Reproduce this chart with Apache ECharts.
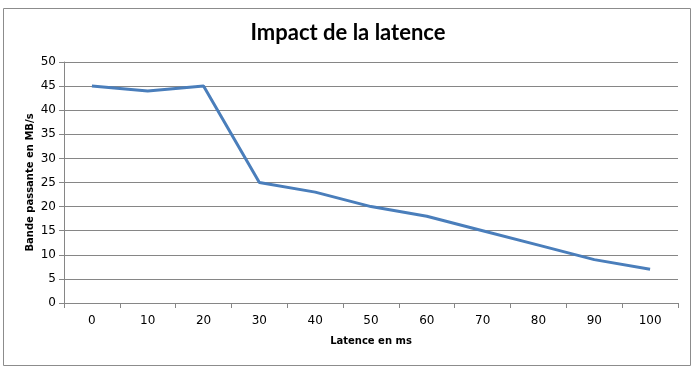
<!DOCTYPE html>
<html><head><meta charset="utf-8">
<script src="https://cdn.jsdelivr.net/npm/echarts@6/dist/echarts.min.js"></script>
<style>html,body{margin:0;padding:0;background:#fff}#c{width:696px;height:372px}</style>
</head><body><div id="c"></div>
<script>
var categories = ['0','10','20','30','40','50','60','70','80','90','100'];
var bandwidth = [45, 44, 45, 25, 23, 20, 18, 15, 12, 9, 7];
var chart = echarts.init(document.getElementById('c'), null, {renderer:'canvas'});
chart.setOption({
  animation:false,
  backgroundColor:'#fff',
  graphic:[{type:'rect',shape:{x:3.5,y:8.5,width:687,height:357},style:{fill:'none',stroke:'#8c8c8c',lineWidth:1},silent:true}],
  title:{text:'Impact de la latence',left:'center',top:17,textStyle:{fontFamily:'Lato',fontWeight:'bold',fontSize:22,color:'#000'}},
  grid:{left:64,right:18,top:62,bottom:69},
  xAxis:{type:'category',data:categories,boundaryGap:true,
    name:'Latence en ms',nameLocation:'middle',nameGap:33,
    nameTextStyle:{fontFamily:'DejaVu Sans',fontWeight:'bold',fontSize:10,color:'#000'},
    axisLine:{lineStyle:{color:'#868686'}},
    axisTick:{show:true,length:5,lineStyle:{color:'#868686'}},
    axisLabel:{fontFamily:'DejaVu Sans',fontSize:12,color:'#000',margin:12}},
  yAxis:{type:'value',min:0,max:50,interval:5,
    name:'Bande passante en MB/s',nameLocation:'middle',nameGap:29,nameMoveOverlap:false,
    nameTextStyle:{fontFamily:'DejaVu Sans',fontWeight:'bold',fontSize:10,color:'#000'},
    axisLine:{show:true,lineStyle:{color:'#868686'}},
    axisTick:{show:true,length:5,lineStyle:{color:'#868686'}},
    axisLabel:{fontFamily:'DejaVu Sans',fontSize:12,color:'#000',margin:8},
    splitLine:{lineStyle:{color:'#868686'}}},
  series:[{type:'line',data:bandwidth,showSymbol:false,symbol:'none',
    lineStyle:{color:'#4A7EBB',width:3}}]
});
</script></body></html>
